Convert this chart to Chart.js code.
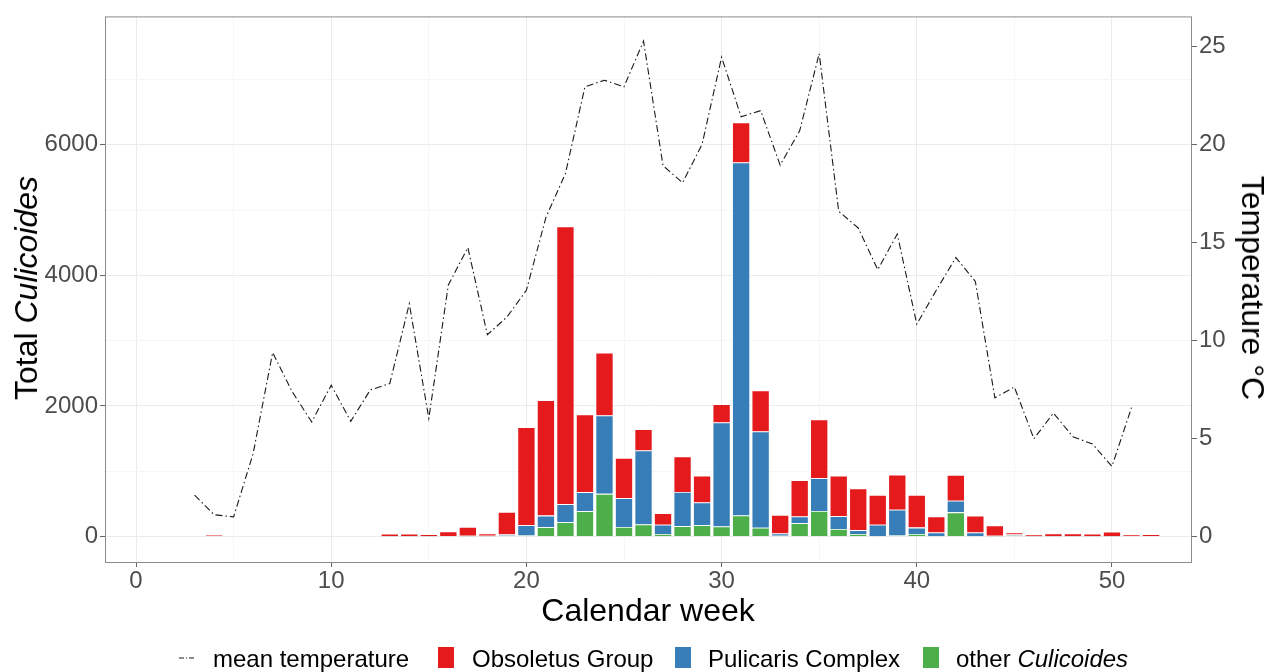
<!DOCTYPE html>
<html>
<head>
<meta charset="utf-8">
<script src="https://cdn.jsdelivr.net/npm/chart.js@4.4.1/dist/chart.umd.min.js"></script>
<style>
  body { margin: 0; background: #fff; }
  #wrap { position: relative; width: 1277px; height: 672px; font-family: "Liberation Sans", Arial, sans-serif; }
  #chart { position: absolute; left: 0; top: 0; }
  .lbl { position: absolute; white-space: nowrap; color: #000; }
  .title { font-size: 32px; line-height: 32px; }
  .leg { font-size: 24px; line-height: 24px; top: 647px; }
  .key { position: absolute; top: 647px; width: 16px; height: 21px; }
</style>
</head>
<body>
<div id="wrap">
  <canvas id="chart" width="1277" height="672"></canvas>
  <div class="lbl title" style="left:26px;top:288px;transform:translate(-50%,-50%) rotate(-90deg);">Total <i>Culicoides</i></div>
  <div class="lbl title" style="left:1253px;top:288px;transform:translate(-50%,-50%) rotate(90deg);">Temperature °C</div>
  <div class="lbl title" style="left:648px;top:594px;transform:translateX(-50%);">Calendar week</div>

  <svg style="position:absolute;left:179px;top:652px" width="16" height="12">
    <line x1="0" y1="6" x2="16" y2="6" stroke="#1a1a1a" stroke-width="1.2" stroke-dasharray="5,2,1,2"></line>
  </svg>
  <div class="lbl leg" style="left:213px;">mean temperature</div>
  <div class="key" style="left:438px;background:#E41A1C;"></div>
  <div class="lbl leg" style="left:472px;">Obsoletus Group</div>
  <div class="key" style="left:675px;background:#377EB8;"></div>
  <div class="lbl leg" style="left:708px;">Pulicaris Complex</div>
  <div class="key" style="left:923px;background:#4DAF4A;"></div>
  <div class="lbl leg" style="left:956px;">other <i>Culicoides</i></div>
</div>
<script>
// calendar weeks with catches
var weeks = [4, 6, 7, 13, 14, 15, 16, 17, 18, 19, 20, 21, 22, 23, 24, 25, 26, 27, 28, 29, 30,
             31, 32, 33, 34, 35, 36, 37, 38, 39, 40, 41, 42, 43, 44, 45, 46, 47, 48, 49, 50, 51, 52];
var obsoletus = [22, 8, 8, 42, 42, 32, 72, 136, 35, 347, 1498, 1767, 4254, 1189, 964, 616, 327, 178, 545, 412, 280,
                 615, 630, 284, 556, 899, 621, 637, 458, 538, 502, 245, 394, 260, 158, 32, 30, 44, 44, 38, 72, 30, 34];
var pulicaris = [0, 0, 0, 2, 2, 2, 4, 10, 10, 20, 159, 178, 278, 294, 1199, 441, 1133, 142, 523, 346, 1591,
                 5405, 1475, 37, 103, 501, 196, 61, 175, 394, 98, 55, 179, 55, 8, 15, 3, 3, 3, 3, 2, 0, 0];
var otherCul = [0, 0, 0, 0, 0, 0, 2, 2, 2, 10, 15, 142, 218, 386, 653, 147, 185, 37, 159, 174, 154,
                322, 133, 10, 203, 392, 114, 37, 5, 15, 38, 5, 370, 5, 2, 15, 0, 0, 0, 0, 0, 0, 0];

// weekly mean temperature
var tempWeeks = [3, 4, 5, 6, 7, 8, 9, 10, 11, 12, 13, 14, 15, 16, 17, 18, 19, 20, 21, 22, 23, 24, 25, 26, 27,
                 28, 29, 30, 31, 32, 33, 34, 35, 36, 37, 38, 39, 40, 41, 42, 43, 44, 45, 46, 47, 48, 49, 50, 51];
var meanTemp = [2.11, 1.11, 1.0, 4.24, 9.39, 7.39, 5.85, 7.72, 5.88, 7.48, 7.81, 11.88, 6.03, 12.84, 14.75, 10.3,
                11.2, 12.57, 16.29, 18.53, 22.96, 23.29, 22.96, 25.29, 18.93, 18.06, 20.02, 24.47, 21.43, 21.74,
                18.96, 20.71, 24.65, 16.6, 15.75, 13.62, 15.44, 10.84, 12.57, 14.24, 13.02, 7.08, 7.63, 4.99,
                6.3, 5.09, 4.72, 3.58, 6.58];

var countTicks = [0, 1000, 2000, 3000, 4000, 5000, 6000, 7000];
var tempTicks = [0, 5, 10, 15, 20, 25];
var weekTicks = [0, 5, 10, 15, 20, 25, 30, 35, 40, 45, 50];

var tempFactor = 300;
var yMin = -406, yMax = 7965;

function pts(xs, ys) {
    return xs.map(function (x, i) { return { x: x, y: ys[i] }; });
}
function setTicks(list) {
    return function (scale) {
        scale.ticks = list.map(function (v) { return { value: v }; });
    };
}
var tickFont = { family: '"Liberation Sans", Arial, sans-serif', size: 24 };
var gridCol = function (step) {
    return function (c) { return c.tick && c.tick.value % step === 0 ? '#ebebeb' : '#f6f6f6'; };
};
var tickCol = function (step) {
    return function (c) { return c.tick && c.tick.value % step === 0 ? '#666' : 'rgba(0,0,0,0)'; };
};

var panelBorder = {
    id: 'panelBorder',
    afterDraw: function (chart) {
        var a = chart.chartArea, c = chart.ctx;
        c.save();
        c.strokeStyle = '#8c8c8c';
        c.lineWidth = 1;
        c.strokeRect(a.left + 0.5, a.top + 0.5, a.right - a.left - 1, a.bottom - a.top - 1);
        c.restore();
    }
};

var barStyle = { borderColor: '#ffffff', borderWidth: 0.8, borderSkipped: 'start',
                 barPercentage: 0.92, categoryPercentage: 1, order: 1 };

new Chart(document.getElementById('chart'), {
    type: 'bar',
    data: {
        datasets: [
            {
                type: 'line', label: 'mean temperature', data: pts(tempWeeks, meanTemp),
                yAxisID: 'y2', borderColor: '#1a1a1a', borderWidth: 1.1, borderDash: [7, 3, 1.5, 3],
                pointRadius: 0, tension: 0, fill: false, order: 0
            },
            Object.assign({ label: 'other Culicoides', data: pts(weeks, otherCul), backgroundColor: '#4DAF4A' }, barStyle),
            Object.assign({ label: 'Pulicaris Complex', data: pts(weeks, pulicaris), backgroundColor: '#377EB8' }, barStyle),
            Object.assign({ label: 'Obsoletus Group', data: pts(weeks, obsoletus), backgroundColor: '#E41A1C' }, barStyle)
        ]
    },
    options: {
        responsive: false,
        animation: false,
        layout: { padding: { top: 14, left: 0, right: 0, bottom: 0 } },
        plugins: { legend: { display: false }, tooltip: { enabled: false } },
        scales: {
            x: {
                type: 'linear', stacked: true, min: -1.59, max: 54.1, offset: false,
                afterBuildTicks: setTicks(weekTicks),
                afterFit: function (s) { s.height = 109; },
                border: { display: false },
                grid: { offset: false, color: gridCol(10), tickColor: tickCol(10), tickLength: 4, lineWidth: 1 },
                ticks: {
                    autoSkip: false, maxRotation: 0, padding: 0, color: '#4d4d4d', font: tickFont,
                    callback: function (v) { return v % 10 === 0 ? String(v) : ''; }
                }
            },
            y: {
                stacked: true, position: 'left', min: yMin, max: yMax,
                afterBuildTicks: setTicks(countTicks),
                afterFit: function (s) { s.width = 105; },
                border: { display: false },
                grid: { color: gridCol(2000), tickColor: tickCol(2000), tickLength: 5 },
                ticks: {
                    autoSkip: false, padding: 2, color: '#4d4d4d', font: tickFont,
                    callback: function (v) { return v % 2000 === 0 ? String(v) : ''; }
                }
            },
            y2: {
                position: 'right', min: yMin / tempFactor, max: yMax / tempFactor,
                afterBuildTicks: setTicks(tempTicks),
                afterFit: function (s) { s.width = 85; },
                border: { display: false },
                grid: { drawOnChartArea: false, tickColor: '#666', tickLength: 5 },
                ticks: { autoSkip: false, padding: 2, color: '#4d4d4d', font: tickFont }
            }
        }
    },
    plugins: [panelBorder]
});
</script>
</body>
</html>
